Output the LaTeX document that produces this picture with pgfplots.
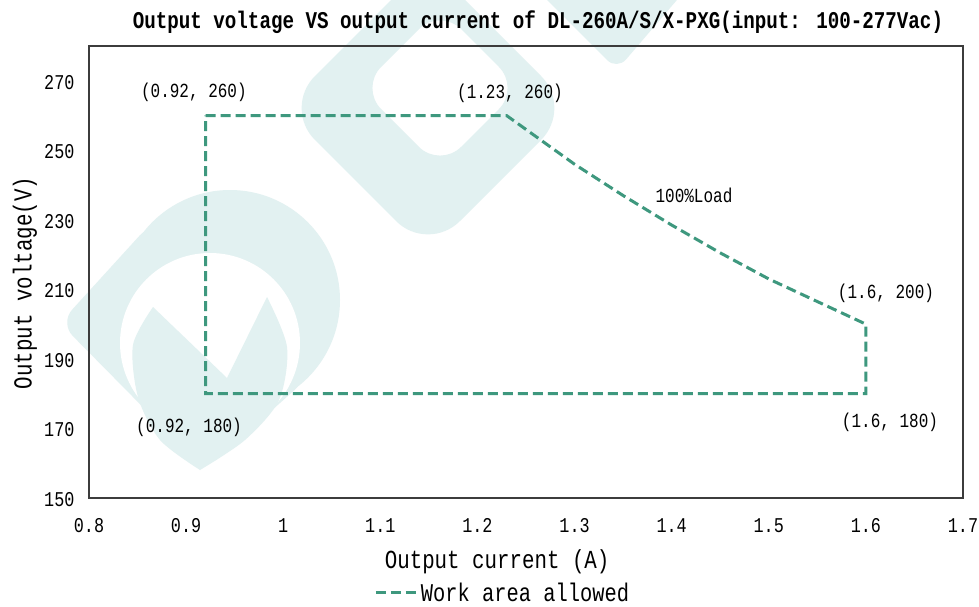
\documentclass[border=0pt]{standalone}
\usepackage{pgfplots}
\pgfplotsset{compat=1.18}
\usepackage{fontspec}
\setmainfont{Liberation Mono}[FakeStretch=0.8]
\definecolor{linec}{RGB}{62,152,126}
\definecolor{wm}{RGB}{226,241,241}
\definecolor{framec}{RGB}{60,60,60}
\begin{document}
\begin{tikzpicture}
\fill[white] (-89pt,-108pt) rectangle (890pt,498pt);
% faint logo watermark (pixel coordinates of the reference)
\begin{scope}
\clip (-89pt,-108pt) rectangle (890pt,498pt);
\begin{scope}[shift={(-89pt,498pt)}, x=1pt, y=-1pt]
  % left logo part
  \fill[wm] (230,300) circle (110pt);
  \fill[wm, rounded corners=18pt] (152,222) -- (60,323) -- (205,470) -- (308,378) -- cycle;
  \fill[white] (210,343) circle (90pt);
  \fill[wm] (153,307) -- (227,378) -- (267,297)
     -- plot[smooth] coordinates {(267,297) (287,347) (279,400) (245,440) (200,470)}
     -- plot[smooth] coordinates {(200,470) (160,440) (138,397) (133,345) (153,307)} -- cycle;
  % upper logo part with hole
  \fill[wm, even odd rule]
     [rounded corners=45pt] (283,108) -- (428,253) -- (573,108) -- (428,-37) -- cycle
     [rounded corners=30pt] (360,88) -- (440,168) -- (520,88) -- (440,8) -- cycle;
  % top right band
  \fill[wm, rounded corners=14pt] (617,70) -- (520,-27) -- (700,-27) -- cycle;
\end{scope}
\end{scope}
\begin{axis}[
  at={(0pt,0pt)}, anchor=south west,
  scale only axis, width=874pt, height=452pt,
  xmin=0.8, xmax=1.7, ymin=150, ymax=280,
  xtick={0.8,0.9,1,1.1,1.2,1.3,1.4,1.5,1.6,1.7},
  ytick={150,170,190,210,230,250,270},
  major tick length=0pt,
  axis line style={framec, line width=1.3pt},
  /pgf/number format/assume math mode=true,
  tick label style={font=\fontsize{21}{21}\selectfont, text=black},
  xticklabel style={yshift=-17pt},
  yticklabel style={xshift=-11pt, yshift=-1.5pt},
  clip=false,
  title={Output voltage VS output current of DL-260A/S/X-PXG(input: 100-277Vac)},
  title style={at={(axis description cs:0.5137,1.0398)}, anchor=center,
    font=\bfseries\fontsize{24}{24}\selectfont},
  xlabel={Output current (A)},
  xlabel style={at={(axis description cs:0.467,-0.1416)}, anchor=center,
    font=\fontsize{26}{26}\selectfont},
  ylabel={Output voltage(V)},
  ylabel style={at={(axis description cs:-0.0732,0.4757)}, anchor=center,
    font=\fontsize{26}{26}\selectfont},
  legend style={at={(axis description cs:0.4731,-0.2095)}, anchor=center,
    draw=none, fill=none, font=\fontsize{25.5}{25.5}\selectfont,
    nodes={inner sep=1.5pt}},
  legend image code/.code={\draw[#1] (0pt,0pt) -- (42pt,0pt);},
]
\addplot[linec, line width=3pt, dash pattern=on 10pt off 5pt, line join=miter]
  coordinates {
  (0.92,260) (1.23,260) (1.25,256) (1.30,246) (1.35,237) (1.40,228.5)
  (1.45,220.5) (1.50,213) (1.55,206.5) (1.60,200) (1.60,180) (0.92,180) (0.92,260)
  };
\addlegendentry{Work area allowed}
\node[font=\fontsize{20}{20}\selectfont] at (axis cs:0.908,266.8) {(0.92, 260)};
\node[font=\fontsize{20}{20}\selectfont] at (axis cs:1.2335,266.5) {(1.23, 260)};
\node[font=\fontsize{20}{20}\selectfont] at (axis cs:1.423,237.1) {100\%Load};
\node[font=\fontsize{20}{20}\selectfont] at (axis cs:1.6207,209) {(1.6, 200)};
\node[font=\fontsize{20}{20}\selectfont] at (axis cs:1.6248,171.9) {(1.6, 180)};
\node[font=\fontsize{20}{20}\selectfont] at (axis cs:0.903,170.4) {(0.92, 180)};
\end{axis}
\pgfresetboundingbox
\useasboundingbox (-89pt,-108pt) rectangle (890pt,498pt);
\end{tikzpicture}
\end{document}
